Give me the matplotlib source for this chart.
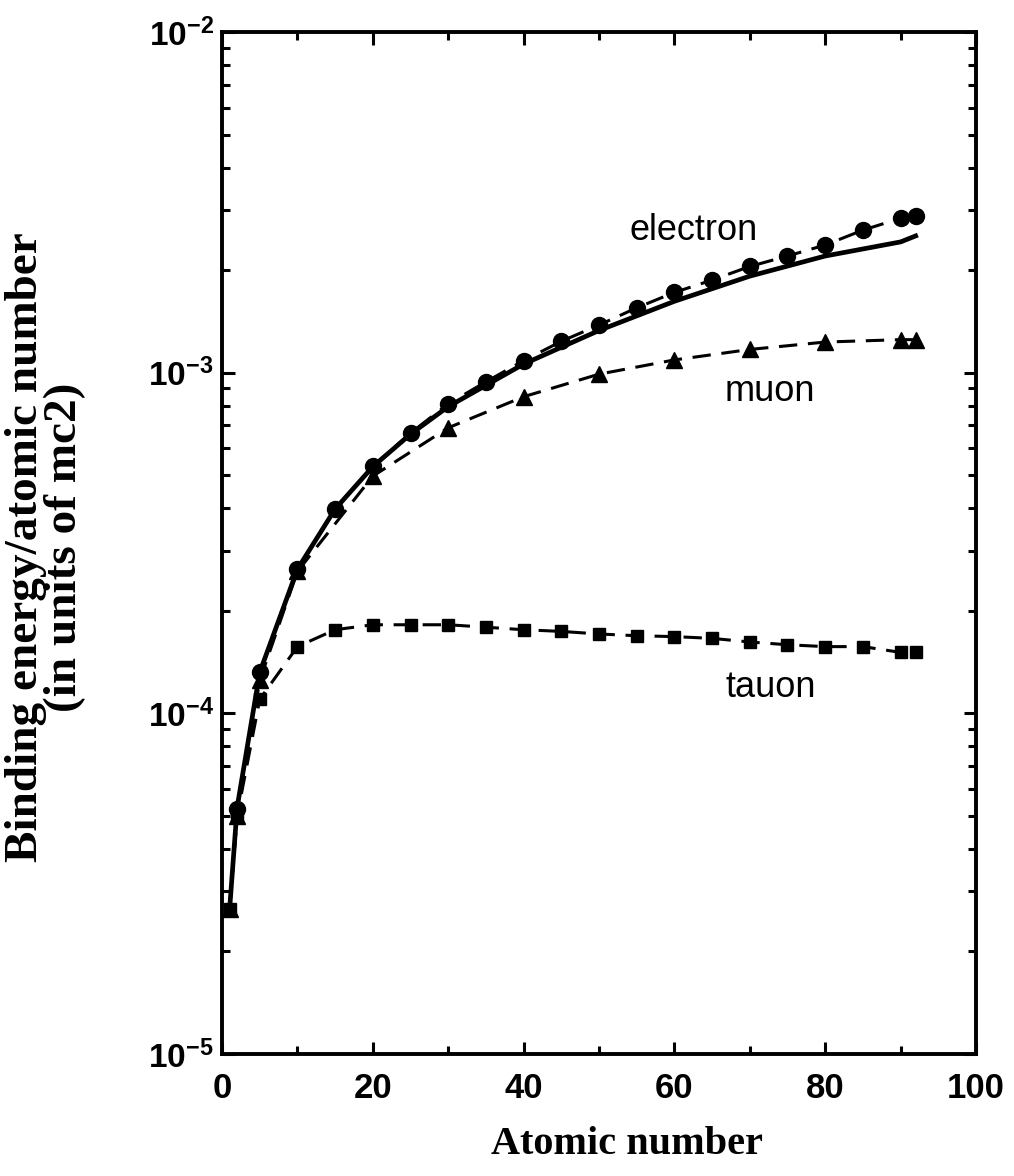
import matplotlib
matplotlib.use("Agg")
import matplotlib.pyplot as plt
from matplotlib.ticker import FixedLocator, LogLocator, NullFormatter

# Atomic number sampling
z_electron = [2, 5, 10, 15, 20, 25, 30, 35, 40, 45, 50, 55, 60, 65, 70, 75, 80, 85, 90, 92]
e_electron = [5.23e-5, 1.32e-4, 2.65e-4, 3.98e-4, 5.31e-4, 6.65e-4, 8.1e-4, 9.4e-4, 1.085e-3,
              1.236e-3, 1.38e-3, 1.55e-3, 1.72e-3, 1.87e-3, 2.05e-3, 2.20e-3, 2.37e-3,
              2.62e-3, 2.84e-3, 2.88e-3]

z_simple = [1, 2, 5, 10, 15, 20, 25, 30, 40, 50, 60, 70, 80, 90, 92]
e_simple = [2.66e-5, 5.3e-5, 1.32e-4, 2.65e-4, 3.98e-4, 5.3e-4, 6.6e-4, 7.95e-4, 1.06e-3,
            1.33e-3, 1.62e-3, 1.92e-3, 2.2e-3, 2.42e-3, 2.52e-3]

z_muon = [1, 2, 5, 10, 20, 30, 40, 50, 60, 70, 80, 90, 92]
e_muon = [2.66e-5, 5.0e-5, 1.25e-4, 2.61e-4, 4.97e-4, 6.89e-4, 8.5e-4, 9.9e-4, 1.09e-3,
          1.17e-3, 1.23e-3, 1.25e-3, 1.25e-3]

z_tauon = [1, 2, 5, 10, 15, 20, 25, 30, 35, 40, 45, 50, 55, 60, 65, 70, 75, 80, 85, 90, 92]
e_tauon = [2.66e-5, 5.0e-5, 1.10e-4, 1.57e-4, 1.76e-4, 1.82e-4, 1.82e-4, 1.82e-4, 1.79e-4,
           1.76e-4, 1.74e-4, 1.71e-4, 1.69e-4, 1.68e-4, 1.66e-4, 1.62e-4, 1.59e-4, 1.57e-4,
           1.57e-4, 1.51e-4, 1.51e-4]

x_ticks = [0, 20, 40, 60, 80, 100]
y_ticks = [1e-5, 1e-4, 1e-3, 1e-2]
y_ticklabels = [r"$\mathbf{10^{-5}}$", r"$\mathbf{10^{-4}}$", r"$\mathbf{10^{-3}}$", r"$\mathbf{10^{-2}}$"]

plt.rcParams["mathtext.fontset"] = "custom"
plt.rcParams["mathtext.bf"] = "Liberation Sans:bold"
plt.rcParams["mathtext.rm"] = "Liberation Sans"

fig = plt.figure(figsize=(10.14, 11.76), dpi=100)
ax = fig.add_axes([0.219, 0.1037, 0.7435, 0.8691])

dash = (6, 3.5)
ax.plot(z_simple, e_simple, color="black", lw=3.4, solid_joinstyle="round", zorder=3)
ax.plot(z_electron, e_electron, color="black", lw=2.2, dashes=dash, marker="o",
        markersize=11.5, zorder=4)
ax.plot(z_muon, e_muon, color="black", lw=2.2, dashes=dash, marker="^",
        markersize=12, zorder=4)
ax.plot(z_tauon, e_tauon, color="black", lw=2.2, dashes=dash, marker="s",
        markersize=8.5, zorder=4)

ax.set_yscale("log")
ax.set_xlim(0, 100)
ax.set_ylim(1e-5, 1e-2)

ax.set_xticks(x_ticks)
ax.set_xticklabels([str(v) for v in x_ticks])
ax.xaxis.set_minor_locator(FixedLocator([10, 30, 50, 70, 90]))
ax.set_yticks(y_ticks)
ax.set_yticklabels(y_ticklabels)
ax.yaxis.set_minor_locator(LogLocator(base=10, subs=range(2, 10)))
ax.yaxis.set_minor_formatter(NullFormatter())

for lab in ax.get_xticklabels():
    lab.set_fontfamily("Liberation Sans")
    lab.set_fontweight("bold")
ax.tick_params(axis="x", which="major", labelsize=25, pad=13)
ax.tick_params(axis="y", which="major", labelsize=24, pad=6)
ax.tick_params(which="both", direction="in", top=True, right=True, width=2.2, color="black")
ax.tick_params(which="major", length=9)
ax.tick_params(which="minor", length=6)
for sp in ax.spines.values():
    sp.set_linewidth(2.8)

txt = dict(fontsize=26, family="Liberation Sans", ha="center", va="center")
ax.text(62.5, 2.62e-3, "electron", **txt)
ax.text(72.7, 8.8e-4, "muon", **txt)
ax.text(72.8, 1.19e-4, "tauon", **txt)

fig.text(0.618, 0.027, "Atomic number", fontsize=29, family="Liberation Serif",
         fontweight="bold", ha="center", va="center")
fig.text(0.045, 0.535, "Binding energy/atomic number\n(in units of mc2)", fontsize=34,
         family="Liberation Serif", fontweight="bold", rotation=90, ha="center",
         va="center", multialignment="center", linespacing=0.92)

fig.savefig("out.png", dpi=100)
